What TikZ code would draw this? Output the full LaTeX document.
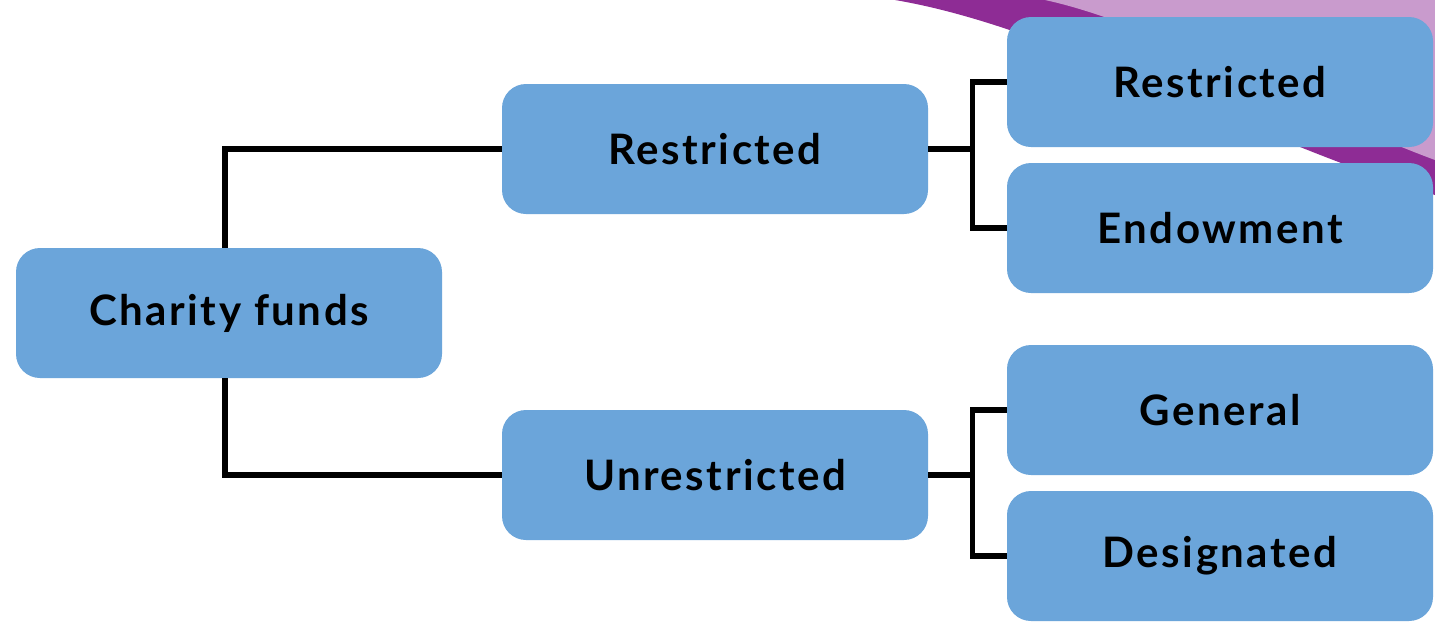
\documentclass[tikz,border=0pt]{standalone}
\usepackage{fontspec}
\setmainfont{Lato}
\newfontfamily\boxfont[LetterSpace=6]{Lato}
\definecolor{boxblue}{HTML}{6BA5DA}
\definecolor{lightpurple}{HTML}{C99BCD}
\definecolor{darkpurple}{HTML}{8E2C95}
\tikzset{
  fundbox/.style={fill=boxblue, rounded corners=12pt, minimum width=213pt, minimum height=65pt, inner sep=0pt, font=\boxfont\fontsize{21}{25}\selectfont\bfseries, text=black},
  link/.style={draw=black, line width=2.7pt}
}
\begin{document}
\begin{tikzpicture}[x=0.5pt,y=-0.5pt]
\useasboundingbox (0,0) rectangle (1435,622);
\fill[white] (0,0) rectangle (1435,622);
% decorative purple wedge
\fill[darkpurple] (895,0) .. controls (1060,28) and (1250,140) .. (1435,195) -- (1435,0) -- cycle;
\fill[lightpurple] (1045,0) .. controls (1160,25) and (1300,110) .. (1435,160) -- (1435,0) -- cycle;
% nodes
\node[fundbox] (cf) at (229,313) {Charity funds};
\node[fundbox] (r) at (715,149) {Restricted};
\node[fundbox] (u) at (715,475) {Unrestricted};
\node[fundbox] (rr) at (1220,82) {Restricted};
\node[fundbox] (en) at (1220,228) {Endowment};
\node[fundbox] (ge) at (1220,410) {General};
\node[fundbox] (de) at (1220,556) {Designated};
% connectors
\draw[link] ([xshift=-2pt]cf.north) |- (r.west);
\draw[link] ([xshift=-2pt]cf.south) |- (u.west);
\draw[link] (r.east) -- ++(44,0) coordinate (j1);
\draw[link] (rr.west) -| (j1) |- (en.west);
\draw[link] (u.east) -- ++(44,0) coordinate (j2);
\draw[link] (ge.west) -| (j2) |- (de.west);
\end{tikzpicture}
\end{document}
